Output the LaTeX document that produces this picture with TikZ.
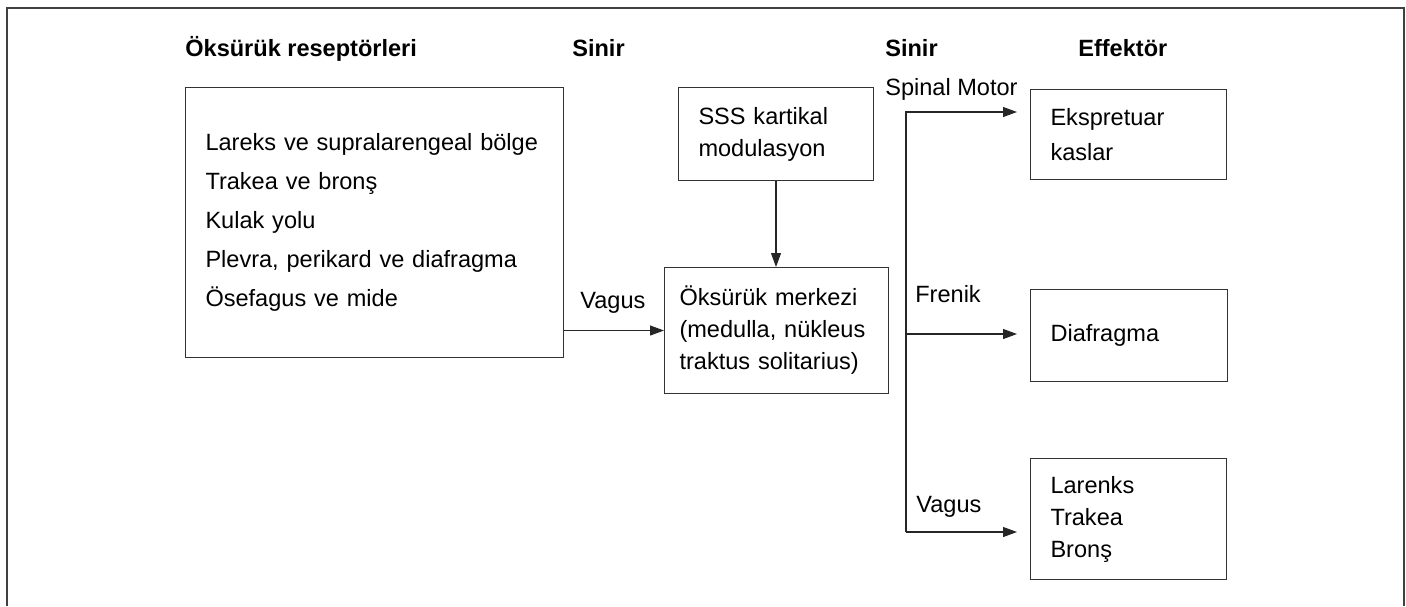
\documentclass[tikz,border=0pt]{standalone}
\usepackage{fontspec}
\setmainfont{Liberation Sans}
\usetikzlibrary{arrows.meta}

\begin{document}
\begin{tikzpicture}[x=0.02cm,y=-0.02cm]
  \tikzstyle{Kutu}=[draw=black!80,line width=0.6pt,rectangle,anchor=north west,
    align=left,inner xsep=0.4cm,inner ysep=0pt,font=\fontsize{13.4}{18.2}\selectfont]
  \tikzstyle{Etiket}=[anchor=base west,inner sep=0pt,font=\fontsize{13.4}{16}\selectfont]
  \tikzstyle{Baslik}=[Etiket,font=\bfseries\fontsize{13.4}{16}\selectfont]
  \tikzstyle{Ok}=[-{Triangle[length=2.8mm,width=2mm]},line width=0.6pt,draw=black!85]
  \useasboundingbox (0,0) rectangle (1406,606);
  % frame
  \draw[black!75,line width=0.7pt] (7,606) -- (7,8) -- (1404,8) -- (1404,606);
  % headers
  \node[Baslik] (h_1) at (185,56) {Öksürük reseptörleri};
  \node[Baslik] (h_2) at (572,56) {Sinir};
  \node[Baslik] (h_3) at (885,56) {Sinir};
  \node[Baslik] (h_4) at (1078,56) {Effektör};
  % boxes
  \node[Kutu,text width=6.76cm,minimum height=5.4cm,
    font=\fontsize{13.4}{22.2}\selectfont] (r_1) at (185,87)
    {Lareks ve supralarengeal bölge\\Trakea ve bronş\\Kulak yolu\\
     Plevra, perikard ve diafragma\\Ösefagus ve mide};
  \node[Kutu,text width=3.1cm,minimum height=1.86cm] (s_1) at (678,87)
    {SSS kartikal\\modulasyon};
  \node[Kutu,inner xsep=0.3cm,text width=3.88cm,minimum height=2.52cm] (m_1) at (664,267)
    {Öksürük merkezi\\(medulla, nükleus\\traktus solitarius)};
  \node[Kutu,text width=3.12cm,minimum height=1.8cm,
    font=\fontsize{13.4}{19.5}\selectfont] (e_1) at (1030,89)
    {Ekspretuar\\kaslar};
  \node[Kutu,text width=3.14cm,minimum height=1.84cm] (d_1) at (1030,289)
    {Diafragma};
  \node[Kutu,text width=3.12cm,minimum height=2.42cm] (l_1) at (1030,458)
    {Larenks\\Trakea\\Bronş};
  % nerves
  \node[Etiket] (v_1) at (580,308) {Vagus};
  \node[Etiket] (sm_1) at (885,95) {Spinal Motor};
  \node[Etiket] (f_1) at (915,302) {Frenik};
  \node[Etiket] (v_2) at (916,512) {Vagus};
  \coordinate (dal_1) at (906,112);
  \coordinate (dal_2) at (906,334);
  \coordinate (dal_3) at (906,532);
  % arrows
  \draw[Ok] (r_1.east |- m_1.west) -- (m_1.west);
  \draw[Ok] (s_1.south) -- (s_1.south |- m_1.north);
  \draw[Ok,shorten >=0.26cm] (dal_3) -- (dal_1) -- (dal_1 -| e_1.west);
  \draw[Ok,shorten >=0.26cm] (dal_2) -- (dal_2 -| d_1.west);
  \draw[Ok,shorten >=0.26cm] (dal_3) -- (dal_3 -| l_1.west);
\end{tikzpicture}
\end{document}
